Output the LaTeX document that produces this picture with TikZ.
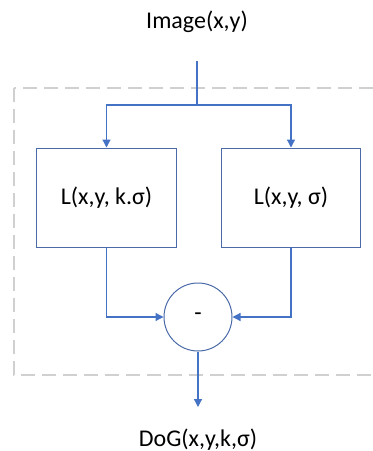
\documentclass[tikz,border=0pt]{standalone}
\usepackage{fontspec}
\setmainfont{Carlito}
\usepackage{xcolor}
\usetikzlibrary{shapes,arrows.meta,positioning,calc}

\definecolor{lineblue}{HTML}{4472C4}
\definecolor{boxblue}{HTML}{4A6AA8}
\definecolor{dashgray}{HTML}{D0D0D0}

\begin{document}
\begin{tikzpicture}[
    x=0.5pt, y=-0.5pt,
    every node/.style={font=\fontsize{12}{14}\selectfont},
    lbox/.style={rectangle, draw=boxblue, line width=0.5pt, inner sep=0pt, minimum height=49.5pt, minimum width=69.8pt},
    opcirc/.style={circle, draw=boxblue, line width=0.5pt, inner sep=0pt, minimum size=34pt},
    lbl/.style={inner sep=0pt},
    arr/.style={-{Triangle[length=4pt, width=4pt]}, line width=0.6pt, draw=lineblue},
    con/.style={line width=0.6pt, draw=lineblue},
    dashbox/.style={draw=dashgray, line width=1pt, dash pattern=on 7pt off 3.5pt}
]
    \useasboundingbox (0,0) rectangle (373,451);
    \clip (0,0) rectangle (373,451);

    \draw [dashbox] (14,88) rectangle (400,375);

    \node [lbl] (img) at (197,22) {Image(x,y)};
    \coordinate (top) at (197,61);
    \coordinate (split) at (197,105);

    \node [lbox] (lk) at (106.5,197.5) {L(x,y, k.σ)};
    \node [lbox] (ls) at (291,197.5) {L(x,y, σ)};

    \node [opcirc] (diff) at (198,317) {-};
    \coordinate (out) at (198,407);
    \node [lbl] (dog) at (198,440) {DoG(x,y,k,σ)};

    \draw [con] (top) -- (split);
    \draw [arr] (split) -| (lk);
    \draw [arr] (split) -| (ls);
    \draw [arr] (lk) |- (diff);
    \draw [arr] (ls) |- (diff);
    \draw [arr] (diff) -- (out);
\end{tikzpicture}
\end{document}
